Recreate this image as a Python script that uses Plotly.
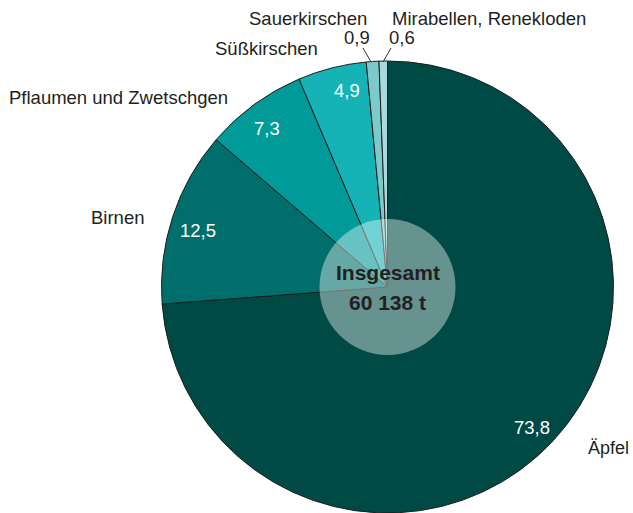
import plotly.graph_objects as go

categories = ["Äpfel", "Birnen", "Pflaumen und Zwetschgen", "Süßkirschen", "Sauerkirschen", "Mirabellen, Renekloden"]
shares = [73.8, 12.5, 7.3, 4.9, 0.9, 0.6]
value_labels = ["73,8", "12,5", "7,3", "4,9", "0,9", "0,6"]
colors = ["#004a45", "#006f6b", "#009b98", "#15b3b5", "#7dcacc", "#aadbdc"]
total_lines = ["<b>Insgesamt</b>", "<b>60 138 t</b>"]

W, H = 633, 513
cx, cy, R = 387.5, 287, 226  # pixel geometry of pie

def px(x):
    return x / W

def py(y):
    return 1 - y / H

fig = go.Figure(go.Pie(
    labels=categories,
    values=shares,
    sort=False,
    direction="clockwise",
    rotation=0,
    textinfo="none",
    hoverinfo="label+value",
    marker=dict(colors=colors, line=dict(color="#1e1e1e", width=1)),
    domain=dict(x=[px(cx - R), px(cx + R)], y=[py(cy + R), py(cy - R)]),
    showlegend=False,
))

font = "Liberation Sans, Arial, Helvetica, sans-serif"
text_col = "#231f20"
fs = 18.5

# category labels: (x, y, xanchor, size)
cat_pos = [
    (631, 448, "right", 18),
    (146, 217, "right", fs),
    (230, 97, "right", fs),
    (320, 48, "right", fs),
    (369, 18, "right", fs),
    (390, 18, "left", fs),
]
val_pos = [
    (532, 427, "center", "white"),
    (198, 230, "center", "white"),
    (267, 128, "center", "white"),
    (347, 90, "center", "white"),
    (357, 37, "center", text_col),
    (402, 37, "center", text_col),
]

annotations = []
for name, (x, y, xa, s) in zip(categories, cat_pos):
    annotations.append(dict(x=px(x), y=py(y), xref="paper", yref="paper", text=name,
                            showarrow=False, xanchor=xa, yanchor="middle",
                            font=dict(family=font, size=s, color=text_col)))
for lab, (x, y, xa, col) in zip(value_labels, val_pos):
    annotations.append(dict(x=px(x), y=py(y), xref="paper", yref="paper", text=lab,
                            showarrow=False, xanchor=xa, yanchor="middle",
                            font=dict(family=font, size=fs, color=col)))
for line, y in zip(total_lines, [272, 302]):
    annotations.append(dict(x=px(cx), y=py(y), xref="paper", yref="paper", text=line,
                            showarrow=False, xanchor="center", yanchor="middle",
                            font=dict(family=font, size=21, color=text_col)))

r0 = 68
shapes = [
    dict(type="circle", xref="paper", yref="paper",
         x0=px(cx - r0), x1=px(cx + r0), y0=py(cy + r0), y1=py(cy - r0),
         fillcolor="rgba(255,255,255,0.4)", line=dict(width=0), layer="above"),
    dict(type="line", xref="paper", yref="paper", x0=px(363), y0=py(48), x1=px(371), y1=py(62),
         line=dict(color="#333", width=1)),
    dict(type="line", xref="paper", yref="paper", x0=px(391), y0=py(48), x1=px(383), y1=py(62),
         line=dict(color="#333", width=1)),
]

fig.update_layout(
    width=W, height=H,
    margin=dict(l=0, r=0, t=0, b=0),
    paper_bgcolor="white", plot_bgcolor="white",
    annotations=annotations, shapes=shapes,
)

fig.write_html("out.html", config={"displayModeBar": False},
               post_script="document.body.style.margin='0';")
